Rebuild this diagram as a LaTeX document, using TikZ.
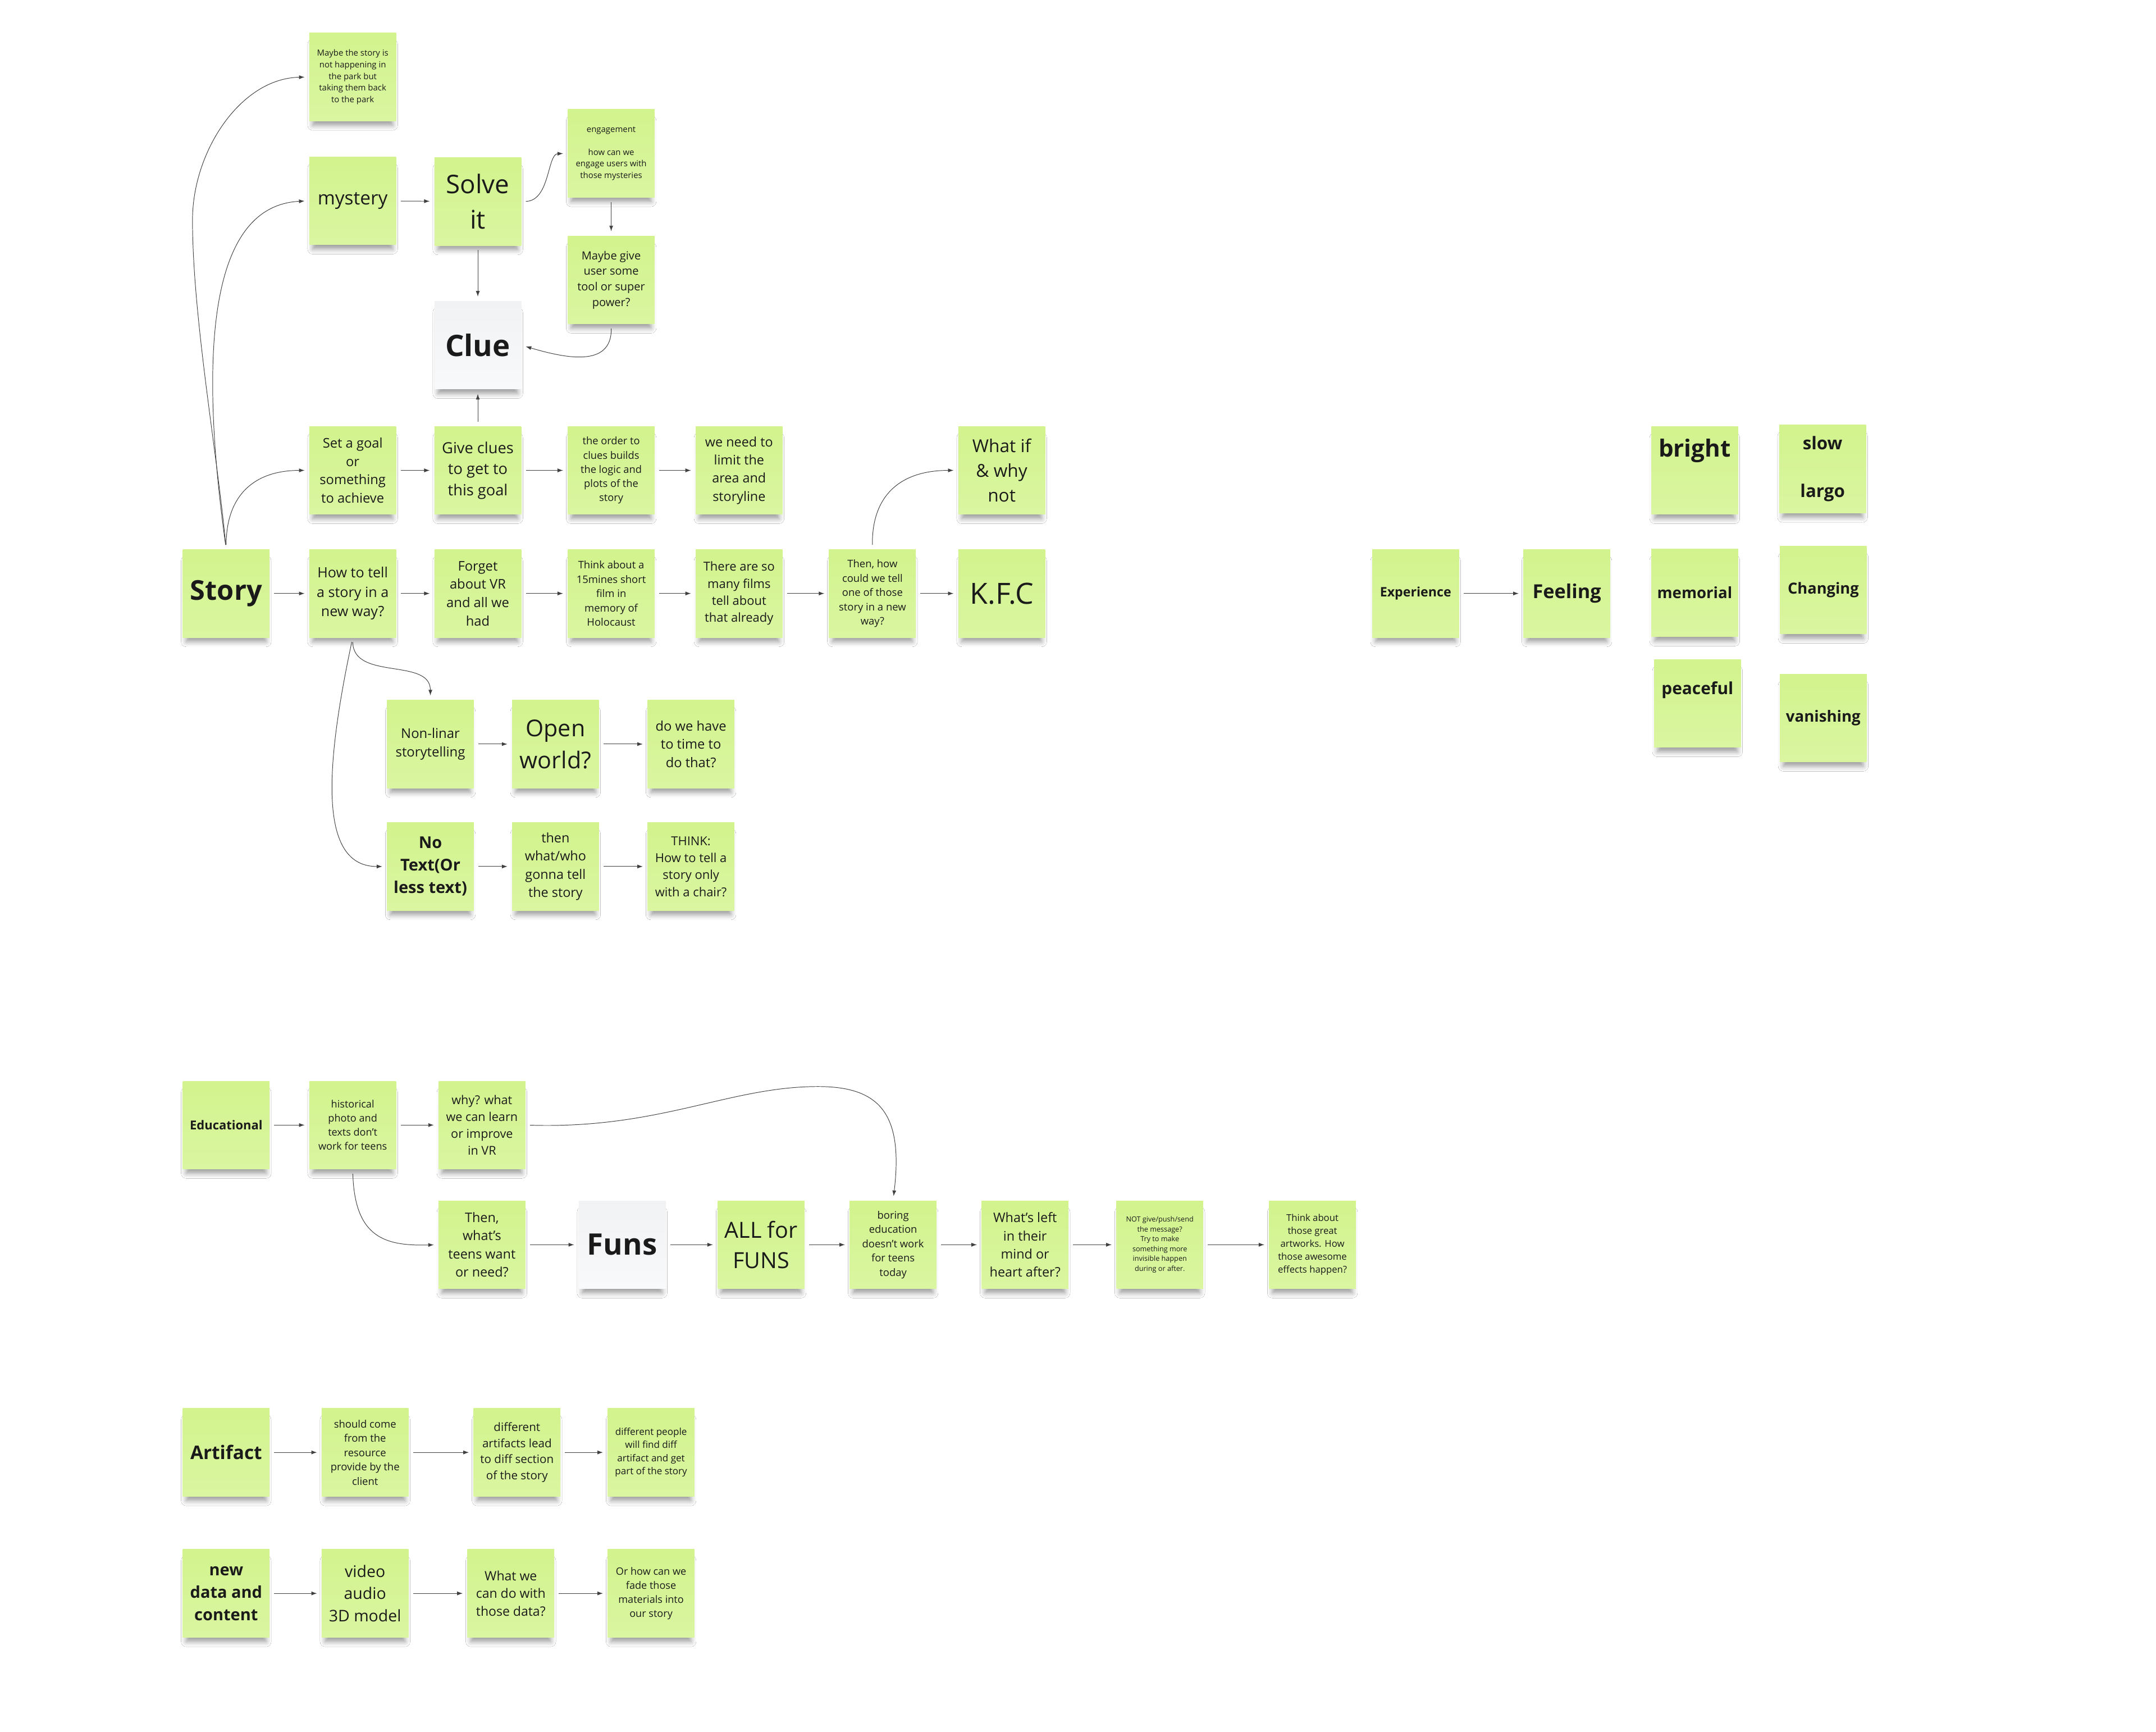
\documentclass[tikz,border=0pt]{standalone}
\usepackage{fontspec}
\setmainfont{Open Sans}
\usetikzlibrary{arrows.meta,shadows.blur}

\definecolor{greentop}{HTML}{D2F38D}
\definecolor{greenbot}{HTML}{DAF6A1}
\definecolor{greytop}{HTML}{F1F2F4}
\definecolor{greybot}{HTML}{F8F9FA}
\definecolor{ink}{HTML}{1A1A1A}
\newcommand{\fsz}[1]{\fontsize{#1}{\fpeval{1.38*#1}}\selectfont}

\begin{document}
\begin{tikzpicture}
  [x=0.4898mm, y=-0.4898mm,
   note/.style={rectangle, minimum width=30.9mm, minimum height=31.3mm,
     inner sep=0pt, align=center, text=ink,
     top color=greentop, bottom color=greenbot,
     blur shadow={shadow xshift=0mm, shadow yshift=-3mm, shadow scale=0.92,
       shadow opacity=40, shadow blur radius=2mm}},
   blank/.style={note, top color=greytop, bottom color=greybot},
   link/.style={draw=black!75, line width=0.55pt, shorten <=1.6mm, shorten >=1.6mm,
     -{Latex[length=2mm,width=1.4mm]}}]
  \fill[white] (0,0) rectangle (1568,1259);
  \useasboundingbox (0,0) rectangle (1568,1259);

  % story board
  \node[note, font=\fsz{8.5}] (maybe) at (256.5, 56) {Maybe the story is\\not happening in\\the park but\\taking them back\\to the park};
  \node[note, font=\fsz{19}] (mystery) at (256.5, 146) {mystery};
  \node[note, font=\fsz{26}] (solve) at (347.5, 146.5) {Solve\\it};
  \node[note, font=\fsz{8.5}] (engage) at (444.5, 111.5) {engagement\\[11.7pt]how can we\\engage users with\\those mysteries};
  \node[note, font=\fsz{11.4}] (tool) at (444.5, 203.5) {Maybe give\\user some\\tool or super\\power?};
  \node[blank, font=\fsz{30}\bfseries] (clue) at (347.5, 251) {Clue};
  \node[note, font=\fsz{13.5}] (goal) at (256.5, 342) {Set a goal\\or\\something\\to achieve};
  \node[note, font=\fsz{15.5}] (clues) at (347.5, 342) {Give clues\\to get to\\this goal};
  \node[note, font=\fsz{10.4}] (order) at (444.5, 342) {the order to\\clues builds\\the logic and\\plots of the\\story};
  \node[note, font=\fsz{13.3}] (limit) at (537.5, 342) {we need to\\limit the\\area and\\storyline};
  \node[note, font=\fsz{18}] (whatif) at (728.5, 342) {What if\\\& why\\not};
  \node[note, font=\fsz{27.7}\bfseries] (story) at (164.5, 431.5) {Story};
  \node[note, font=\fsz{14.3}] (howtell) at (256.5, 431.5) {How to tell\\a story in a\\new way?};
  \node[note, font=\fsz{13.5}] (forget) at (347.5, 431.5) {Forget\\about VR\\and all we\\had};
  \node[note, font=\fsz{10.5}] (holo) at (444.5, 431.5) {Think about a\\15mines short\\film in\\memory of\\Holocaust};
  \node[note, font=\fsz{12.5}] (films) at (537.5, 431.5) {There are so\\many films\\tell about\\that already};
  \node[note, font=\fsz{10.5}] (thenhow) at (634.5, 431.5) {Then, how\\could we tell\\one of those\\story in a new\\way?};
  \node[note, font=\fsz{29.5}] (kfc) at (728.5, 431.5) {K.F.C};
  \node[note, font=\fsz{13.6}] (nonlin) at (313, 541) {Non-linar\\storytelling};
  \node[note, font=\fsz{23.5}] (open) at (404, 541) {Open\\world?};
  \node[note, font=\fsz{13.5}] (time) at (502.5, 541) {do we have\\to time to\\do that?};
  \node[note, font=\fsz{16.5}\bfseries] (notext) at (313, 630) {No\\Text(Or\\less text)};
  \node[note, font=\fsz{13.3}] (who) at (404, 630) {then\\what/who\\gonna tell\\the story};
  \node[note, font=\fsz{12.5}] (chair) at (502.5, 630) {THINK:\\How to tell a\\story only\\with a chair?};

  % feeling board
  \node[note, font=\fsz{13.2}\bfseries] (exper) at (1029.5, 431.5) {Experience};
  \node[note, font=\fsz{19.5}\bfseries] (feel) at (1139.5, 431.5) {Feeling};
  \node[note, font=\fsz{24}\bfseries] (bright) at (1232.5, 342) {\raisebox{16mm}{bright}};
  \node[note, font=\fsz{17.8}\bfseries] (slow) at (1325.5, 341) {slow\\[24pt]largo};
  \node[note, font=\fsz{15.7}\bfseries] (memorial) at (1232.5, 431) {memorial};
  \node[note, font=\fsz{15.5}\bfseries] (changing) at (1326, 429) {Changing};
  \node[note, font=\fsz{17}\bfseries] (peaceful) at (1234.5, 511.5) {\raisebox{11mm}{peaceful}};
  \node[note, font=\fsz{15.7}\bfseries] (vanish) at (1326, 522) {vanishing};

  % educational board
  \node[note, font=\fsz{12.5}\bfseries] (edu) at (164.5, 818) {Educational};
  \node[note, font=\fsz{10.3}] (hist) at (256.5, 818) {historical\\photo and\\texts don't\\work for teens};
  \node[note, font=\fsz{12.3}] (why) at (350.5, 818) {why? what\\we can learn\\or improve\\in VR};
  \node[note, font=\fsz{13.3}] (teens) at (350.5, 905) {Then,\\what's\\teens want\\or need?};
  \node[blank, font=\fsz{30}\bfseries] (funs) at (452.5, 905) {Funs};
  \node[note, font=\fsz{22.5}] (allfun) at (553.5, 905) {ALL for\\FUNS};
  \node[note, font=\fsz{10.5}] (boring) at (649.5, 905) {boring\\education\\doesn't work\\for teens\\today};
  \node[note, font=\fsz{13.3}] (left) at (745.5, 905) {What's left\\in their\\mind or\\heart after?};
  \node[note, font=\fsz{7.2}] (push) at (843.5, 905) {NOT give/push/send\\the message?\\Try to make\\something more\\invisible happen\\during or after.};
  \node[note, font=\fsz{9.5}] (artworks) at (954.5, 905) {Think about\\those great\\artworks. How\\those awesome\\effects happen?};

  % artifact board
  \node[note, font=\fsz{19}\bfseries] (artifact) at (164.5, 1056) {Artifact};
  \node[note, font=\fsz{10.5}] (client) at (265.5, 1056) {should come\\from the\\resource\\provide by the\\client};
  \node[note, font=\fsz{11.7}] (section) at (376, 1056) {different\\artifacts lead\\to diff section\\of the story};
  \node[note, font=\fsz{9.7}] (people) at (473.5, 1056) {different people\\will find diff\\artifact and get\\part of the story};
  \node[note, font=\fsz{16.5}\bfseries] (newdata) at (164.5, 1158.5) {new\\data and\\content};
  \node[note, font=\fsz{16.2}] (video) at (265.5, 1158.5) {video\\audio\\3D model};
  \node[note, font=\fsz{13.1}] (whatwe) at (371.5, 1158.5) {What we\\can do with\\those data?};
  \node[note, font=\fsz{10.3}] (fade) at (473.5, 1158.5) {Or how can we\\fade those\\materials into\\our story};

  \foreach \from/\to in {goal/clues,clues/order,order/limit,story/howtell,howtell/forget,
    forget/holo,holo/films,films/thenhow,thenhow/kfc,nonlin/open,open/time,notext/who,
    who/chair,exper/feel,edu/hist,hist/why,teens/funs,funs/allfun,allfun/boring,
    boring/left,left/push,push/artworks,artifact/client,client/section,section/people,
    newdata/video,video/whatwe,whatwe/fade,mystery/solve,engage/tool,solve/clue,clues/clue}
  \draw[link] (\from) -- (\to);

  \draw[link] (story.north) .. controls (158,330) and (140,230) .. (140,160)
    .. controls (140,110) and (175,57) .. (maybe.west);
  \draw[link] (story.north) .. controls (148,280) and (145,150) .. (mystery.west);
  \draw[link] (story.north) .. controls (164.5,360) and (185,342) .. (goal.west);
  \draw[link] (solve.east) .. controls (400,146) and (398,112) .. (engage.west);
  \draw[link] (tool.south) .. controls (445,268) and (410,260) .. (clue.east);
  \draw[link] (thenhow.north) .. controls (634,360) and (655,342) .. (whatif.west);
  \draw[link] (howtell.south) .. controls (257,495) and (313,478) .. (nonlin.north);
  \draw[link] (howtell.south) .. controls (236,560) and (232,630) .. (notext.west);
  \draw[link] (why.east) .. controls (480,821) and (530,790) .. (595,790)
    .. controls (640,790) and (657,810) .. (boring.north);
  \draw[link] (hist.south) .. controls (258,900) and (280,906) .. (teens.west);

\end{tikzpicture}
\end{document}
